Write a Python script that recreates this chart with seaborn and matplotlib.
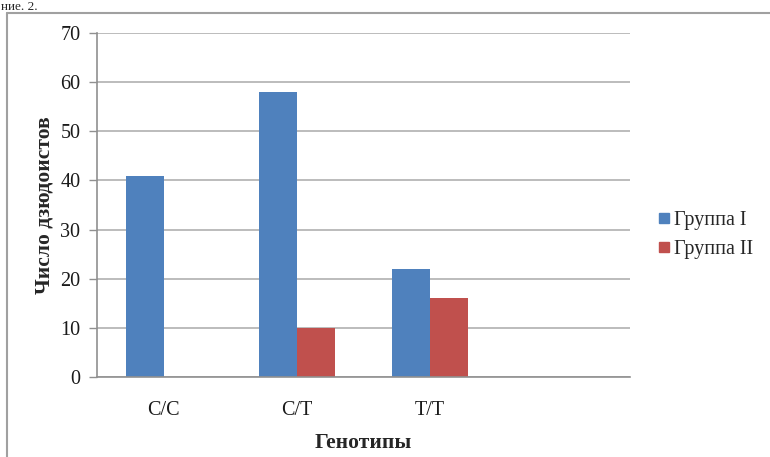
import matplotlib
matplotlib.use("Agg")
import matplotlib.pyplot as plt
import seaborn as sns
import pandas as pd
from matplotlib.lines import Line2D

genotypes = ['C/C', 'C/T', 'T/T', '']
group_names = ['Группа I', 'Группа II']
group1 = [41, 58, 22, 0]
group2 = [0, 10, 16, 0]
y_ticks = [0, 10, 20, 30, 40, 50, 60, 70]

sns.set_theme(style="white")
plt.rcParams['font.family'] = ['Liberation Serif', 'DejaVu Serif']

df = pd.DataFrame({
    'Генотип': genotypes * 2,
    'Число': group1 + group2,
    'Группа': [group_names[0]] * len(genotypes) + [group_names[1]] * len(genotypes),
})

W, H = 770, 457
fig = plt.figure(figsize=(W / 100, H / 100), dpi=100)
ax = fig.add_axes([97 / W, 1 - 377 / H, 533 / W, 344 / H])

colors = ['#4F81BD', '#C0504D']
sns.barplot(data=df, x='Генотип', y='Число', hue='Группа', order=genotypes,
            hue_order=group_names, palette=colors, saturation=1, width=0.57, gap=0,
            linewidth=0, ax=ax, legend=False)

grid_c = '#B0B0B0'
ax.set_ylim(0, 70)
ax.set_xlim(-0.5, len(genotypes) - 0.5)
ax.set_yticks(y_ticks)
ax.set_yticklabels([str(v) for v in y_ticks], fontsize=14.5, color='#1a1a1a')
ax.yaxis.grid(True, color=grid_c, linewidth=1.2)
ax.set_axisbelow(True)

ax.set_xticks(range(len(genotypes)))
ax.set_xticklabels(genotypes, fontsize=14.5, color='#1a1a1a')
ax.tick_params(axis='x', which='major', length=0, pad=17)
ax.set_xticks([i - 0.5 for i in range(len(genotypes) + 1)], minor=True)
ax.tick_params(axis='x', which='minor', length=6, color='#909090', width=1, direction='out')
ax.tick_params(axis='y', length=6, color='#909090', width=1, direction='out', left=True, pad=6)

for s in ['top', 'right']:
    ax.spines[s].set_visible(False)
for s in ['left', 'bottom']:
    ax.spines[s].set_color('#909090')
    ax.spines[s].set_linewidth(1.2)

ax.set_xlabel('Генотипы', fontsize=15.5, fontweight='bold', labelpad=10)
ax.set_ylabel('Число дзюдоистов', fontsize=15.5, fontweight='bold', labelpad=4)

handles = [Line2D([0], [0], marker='s', linestyle='', markersize=7,
                  markerfacecolor=c, markeredgecolor=c) for c in colors]
fig.legend(handles, group_names, loc='center left',
           bbox_to_anchor=(640 / W, 1 - 235 / H), frameon=False,
           fontsize=14.5, handlelength=0.6, handletextpad=0.2,
           labelspacing=0.45)

# outer frame (left and top edges)
fig.add_artist(Line2D([7 / W, 7 / W], [0, 1 - 13 / H], transform=fig.transFigure,
                      color='#A0A0A0', linewidth=1.5))
fig.add_artist(Line2D([7 / W, 1], [1 - 13 / H, 1 - 13 / H], transform=fig.transFigure,
                      color='#A0A0A0', linewidth=1.5))

fig.text(1 / W, 1 - 1 / H, 'ние. 2.', fontsize=9.5, va='top', ha='left')

fig.savefig('out.png', dpi=100)
